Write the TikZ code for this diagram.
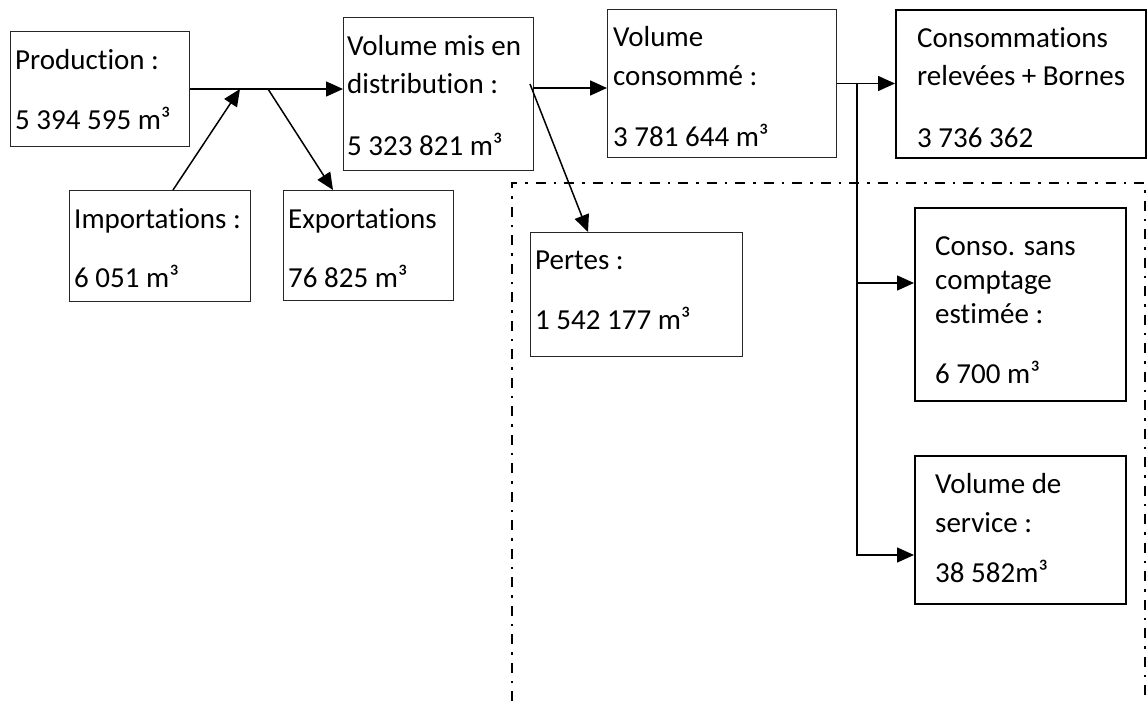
\documentclass[tikz,border=0pt]{standalone}
\usepackage{fontspec}
\setmainfont{Carlito}[Ligatures=NoCommon]
\usetikzlibrary{arrows.meta}
\begin{document}
\begin{tikzpicture}[x=1pt,y=-1pt,
  thinbox/.style={draw=black!85, line width=1pt, inner sep=0pt, anchor=north west},
  thickbox/.style={draw=black, line width=2pt, inner sep=0pt, anchor=north west},
  lbl/.style={anchor=base west, inner sep=0pt, font=\fontsize{29}{34}\selectfont},
  arr/.style={line width=1.5pt, -{Triangle[length=17pt,width=15pt]}},
  frame/.style={line width=2.5pt, dash pattern=on 10pt off 8pt on 2.5pt off 8pt}]
\useasboundingbox (0,0) rectangle (1147,701);
% boxes
\node[thinbox, minimum width=179pt, minimum height=115pt] (prod) at (10,31) {};
\node[thinbox, minimum width=181pt, minimum height=111pt] (imp) at (69,190) {};
\node[thinbox, minimum width=170pt, minimum height=110pt] (exp) at (283,190) {};
\node[thinbox, minimum width=190pt, minimum height=153pt] (dist) at (343,17) {};
\node[thinbox, minimum width=229pt, minimum height=148pt] (vc) at (607,9) {};
\node[thickbox, minimum width=250pt, minimum height=148pt] (rel) at (895,9) {};
\node[thinbox, minimum width=212pt, minimum height=124pt] (pertes) at (530,232) {};
\node[thickbox, minimum width=211pt, minimum height=193pt] (sans) at (914,207) {};
\node[thickbox, minimum width=211pt, minimum height=148pt] (serv) at (914,455) {};
% texts
\node[lbl] (t1) at (15,69) {Production :};
\node[lbl] (t2) at (15,129) {5 394 595 m³};
\node[lbl] (t3) at (74,228) {Importations :};
\node[lbl] (t4) at (74,287) {6 051 m³};
\node[lbl] (t5) at (288,228) {Exportations};
\node[lbl] (t6) at (288,287) {76 825 m³};
\node[lbl] (t7) at (347,56) {Volume mis en};
\node[lbl] (t8) at (347,93) {distribution :};
\node[lbl] (t9) at (347,155) {5 323 821 m³};
\node[lbl] (t10) at (613,47) {Volume};
\node[lbl] (t11) at (613,85) {consommé :};
\node[lbl] (t12) at (613,146) {3 781 644 m³};
\node[lbl] (t13) at (917,48) {Consommations};
\node[lbl] (t14) at (917,85) {relevées + Bornes};
\node[lbl] (t15) at (917,147) {3 736 362};
\node[lbl] (t16) at (535,269) {Pertes :};
\node[lbl] (t17) at (535,329) {1 542 177 m³};
\node[lbl] (t18) at (935,255) {Conso. sans};
\node[lbl] (t19) at (935,289) {comptage};
\node[lbl] (t20) at (935,323) {estimée :};
\node[lbl] (t21) at (935,383) {6 700 m³};
\node[lbl] (t22) at (935,493) {Volume de};
\node[lbl] (t23) at (935,532) {service :};
\node[lbl] (t24) at (935,582) {38 582m³};
% connectors
\coordinate (jin) at (240,89);
\coordinate (jout) at (268,89);
\coordinate (d1) at (533,88);
\coordinate (ps) at (530,84);
\coordinate (br) at (857,83);
\coordinate (sa) at ([yshift=21.5pt]sans.west);
\coordinate (sv) at ([yshift=-25pt]serv.west);
\draw[arr] (prod.east) -- (prod.east -| dist.west);
\draw[arr] ([xshift=104pt]imp.north west) -- (jin);
\draw[arr] (jout) -- ([xshift=50pt]exp.north west);
\draw[arr] (d1) -- (d1 -| vc.west);
\draw[arr] (ps) -- ([xshift=58pt]pertes.north west);
\draw[arr] (vc.east) -- (vc.east -| rel.west);
\draw[arr] (br) |- (sv);
\draw[arr] (br |- sa) -- (sa);
% frame
\draw[frame] (512,701) -- (512,183) -- (1145,183) -- (1145,701);
\end{tikzpicture}
\end{document}
